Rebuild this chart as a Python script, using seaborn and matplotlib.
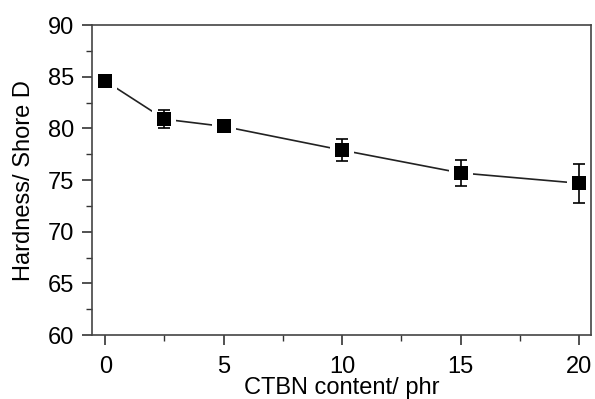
import matplotlib
matplotlib.use("Agg")
import matplotlib.pyplot as plt
import seaborn as sns
import pandas as pd
import numpy as np
from matplotlib.ticker import MultipleLocator

ctbn = [0, 2.5, 5, 10, 15, 20]
hardness = [84.6, 80.9, 80.2, 77.9, 75.7, 74.7]
err = [0.3, 0.9, 0.3, 1.05, 1.25, 1.9]

sns.set_theme(style="ticks")
plt.rcParams['font.family'] = ['Liberation Sans', 'DejaVu Sans']
plt.rcParams['text.color'] = 'black'
plt.rcParams['axes.labelcolor'] = 'black'
plt.rcParams['xtick.color'] = 'black'
plt.rcParams['ytick.color'] = 'black'

df = pd.DataFrame({"CTBN": ctbn, "Hardness": hardness, "err": err})

fig = plt.figure(figsize=(5.95, 3.99), dpi=100)
ax = fig.add_axes([0.155, 0.160, 0.838, 0.777])

# connecting line
sns.lineplot(data=df, x="CTBN", y="Hardness", ax=ax, color="#222222",
             linewidth=1.2, zorder=1)
# white halo to give the gap between line and markers
sns.scatterplot(data=df, x="CTBN", y="Hardness", ax=ax, marker="s", s=290,
                color="white", edgecolor="white", linewidth=0, zorder=2)
ax.errorbar(df["CTBN"], df["Hardness"], yerr=df["err"], fmt="none",
            ecolor="black", elinewidth=1.2, capsize=4, capthick=1.2, zorder=3)
sns.scatterplot(data=df, x="CTBN", y="Hardness", ax=ax, marker="s", s=100,
                color="black", edgecolor="black", linewidth=0, zorder=4)

ax.set_xlim(-0.55, 20.5)
ax.set_ylim(60, 90)
ax.xaxis.set_major_locator(MultipleLocator(5))
ax.xaxis.set_minor_locator(MultipleLocator(2.5))
ax.yaxis.set_major_locator(MultipleLocator(5))
ax.yaxis.set_minor_locator(MultipleLocator(2.5))
ax.tick_params(which="major", direction="out", length=7, width=1.2, labelsize=17,
               color="#333333", labelcolor="black")
ax.tick_params(axis="x", which="major", pad=8)
ax.tick_params(axis="y", which="major", pad=6)
ax.tick_params(which="minor", direction="out", length=4, width=1.0, color="#333333")
ax.tick_params(top=False, right=False, which="both")
for s in ax.spines.values():
    s.set_linewidth(1.2)
    s.set_color("#444444")

ax.set_xlabel("CTBN content/ phr", fontsize=17, labelpad=-1, color="black")
ax.set_ylabel("Hardness/ Shore D", fontsize=17, labelpad=9, color="black")

fig.savefig("out.png", dpi=100)
